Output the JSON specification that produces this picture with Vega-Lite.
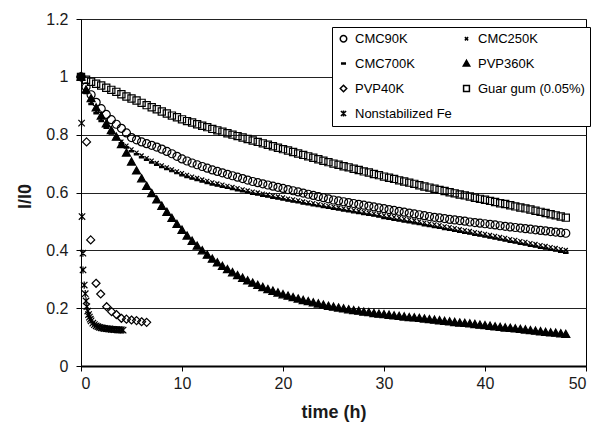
{
"$schema":"https://vega.github.io/schema/vega-lite/v6.json",
"width":505,"height":347,
"autosize":{"type":"none"},
"padding":{"left":81,"top":19,"right":12,"bottom":58},
"background":"white",
"config":{"view":{"stroke":"black","strokeWidth":1},
"font":"Liberation Sans",
"axis":{"labelFont":"Liberation Sans","labelFontSize":16,"labelColor":"#1a1a1a","titleFont":"Liberation Sans","titleFontSize":18,"titleFontWeight":"bold","titleColor":"#1a1a1a","domainColor":"black","tickColor":"black","tickSize":5,"gridColor":"#222222","gridWidth":1}},
"data":{"values":[
{"s":"Guar gum (0.05%)","t":0,"v":1.0},{"s":"Guar gum (0.05%)","t":0.5,"v":0.99},{"s":"Guar gum (0.05%)","t":1,"v":0.983},{"s":"Guar gum (0.05%)","t":1.5,"v":0.976},{"s":"Guar gum (0.05%)","t":2,"v":0.97},{"s":"Guar gum (0.05%)","t":2.5,"v":0.962},{"s":"Guar gum (0.05%)","t":3,"v":0.955},{"s":"Guar gum (0.05%)","t":3.5,"v":0.948},{"s":"Guar gum (0.05%)","t":4,"v":0.94},{"s":"Guar gum (0.05%)","t":4.5,"v":0.932},{"s":"Guar gum (0.05%)","t":5,"v":0.925},{"s":"Guar gum (0.05%)","t":5.5,"v":0.918},{"s":"Guar gum (0.05%)","t":6,"v":0.91},{"s":"Guar gum (0.05%)","t":6.5,"v":0.902},{"s":"Guar gum (0.05%)","t":7,"v":0.895},{"s":"Guar gum (0.05%)","t":7.5,"v":0.888},{"s":"Guar gum (0.05%)","t":8,"v":0.88},{"s":"Guar gum (0.05%)","t":8.5,"v":0.873},{"s":"Guar gum (0.05%)","t":9,"v":0.866},{"s":"Guar gum (0.05%)","t":9.5,"v":0.86},{"s":"Guar gum (0.05%)","t":10,"v":0.853},{"s":"Guar gum (0.05%)","t":10.5,"v":0.847},{"s":"Guar gum (0.05%)","t":11,"v":0.842},{"s":"Guar gum (0.05%)","t":11.5,"v":0.836},{"s":"Guar gum (0.05%)","t":12,"v":0.831},{"s":"Guar gum (0.05%)","t":12.5,"v":0.826},{"s":"Guar gum (0.05%)","t":13,"v":0.82},{"s":"Guar gum (0.05%)","t":13.5,"v":0.815},{"s":"Guar gum (0.05%)","t":14,"v":0.81},{"s":"Guar gum (0.05%)","t":14.5,"v":0.805},{"s":"Guar gum (0.05%)","t":15,"v":0.8},{"s":"Guar gum (0.05%)","t":15.5,"v":0.795},{"s":"Guar gum (0.05%)","t":16,"v":0.79},{"s":"Guar gum (0.05%)","t":16.5,"v":0.785},{"s":"Guar gum (0.05%)","t":17,"v":0.78},{"s":"Guar gum (0.05%)","t":17.5,"v":0.775},{"s":"Guar gum (0.05%)","t":18,"v":0.77},{"s":"Guar gum (0.05%)","t":18.5,"v":0.765},{"s":"Guar gum (0.05%)","t":19,"v":0.76},{"s":"Guar gum (0.05%)","t":19.5,"v":0.755},{"s":"Guar gum (0.05%)","t":20,"v":0.75},{"s":"Guar gum (0.05%)","t":20.5,"v":0.745},{"s":"Guar gum (0.05%)","t":21,"v":0.74},{"s":"Guar gum (0.05%)","t":21.5,"v":0.735},{"s":"Guar gum (0.05%)","t":22,"v":0.73},{"s":"Guar gum (0.05%)","t":22.5,"v":0.725},{"s":"Guar gum (0.05%)","t":23,"v":0.72},{"s":"Guar gum (0.05%)","t":23.5,"v":0.715},{"s":"Guar gum (0.05%)","t":24,"v":0.71},{"s":"Guar gum (0.05%)","t":24.5,"v":0.705},{"s":"Guar gum (0.05%)","t":25,"v":0.7},{"s":"Guar gum (0.05%)","t":25.5,"v":0.696},{"s":"Guar gum (0.05%)","t":26,"v":0.691},{"s":"Guar gum (0.05%)","t":26.5,"v":0.687},{"s":"Guar gum (0.05%)","t":27,"v":0.682},{"s":"Guar gum (0.05%)","t":27.5,"v":0.678},{"s":"Guar gum (0.05%)","t":28,"v":0.673},{"s":"Guar gum (0.05%)","t":28.5,"v":0.669},{"s":"Guar gum (0.05%)","t":29,"v":0.664},{"s":"Guar gum (0.05%)","t":29.5,"v":0.66},{"s":"Guar gum (0.05%)","t":30,"v":0.655},{"s":"Guar gum (0.05%)","t":30.5,"v":0.651},{"s":"Guar gum (0.05%)","t":31,"v":0.647},{"s":"Guar gum (0.05%)","t":31.5,"v":0.642},{"s":"Guar gum (0.05%)","t":32,"v":0.638},{"s":"Guar gum (0.05%)","t":32.5,"v":0.634},{"s":"Guar gum (0.05%)","t":33,"v":0.63},{"s":"Guar gum (0.05%)","t":33.5,"v":0.625},{"s":"Guar gum (0.05%)","t":34,"v":0.621},{"s":"Guar gum (0.05%)","t":34.5,"v":0.617},{"s":"Guar gum (0.05%)","t":35,"v":0.613},{"s":"Guar gum (0.05%)","t":35.5,"v":0.609},{"s":"Guar gum (0.05%)","t":36,"v":0.605},{"s":"Guar gum (0.05%)","t":36.5,"v":0.601},{"s":"Guar gum (0.05%)","t":37,"v":0.597},{"s":"Guar gum (0.05%)","t":37.5,"v":0.593},{"s":"Guar gum (0.05%)","t":38,"v":0.59},{"s":"Guar gum (0.05%)","t":38.5,"v":0.586},{"s":"Guar gum (0.05%)","t":39,"v":0.582},{"s":"Guar gum (0.05%)","t":39.5,"v":0.578},{"s":"Guar gum (0.05%)","t":40,"v":0.575},{"s":"Guar gum (0.05%)","t":40.5,"v":0.571},{"s":"Guar gum (0.05%)","t":41,"v":0.567},{"s":"Guar gum (0.05%)","t":41.5,"v":0.563},{"s":"Guar gum (0.05%)","t":42,"v":0.56},{"s":"Guar gum (0.05%)","t":42.5,"v":0.556},{"s":"Guar gum (0.05%)","t":43,"v":0.552},{"s":"Guar gum (0.05%)","t":43.5,"v":0.548},{"s":"Guar gum (0.05%)","t":44,"v":0.545},{"s":"Guar gum (0.05%)","t":44.5,"v":0.541},{"s":"Guar gum (0.05%)","t":45,"v":0.537},{"s":"Guar gum (0.05%)","t":45.5,"v":0.533},{"s":"Guar gum (0.05%)","t":46,"v":0.529},{"s":"Guar gum (0.05%)","t":46.5,"v":0.525},{"s":"Guar gum (0.05%)","t":47,"v":0.521},{"s":"Guar gum (0.05%)","t":47.5,"v":0.517},{"s":"Guar gum (0.05%)","t":48,"v":0.513},
{"s":"CMC90K","t":0,"v":1.0},{"s":"CMC90K","t":0.5,"v":0.965},{"s":"CMC90K","t":1,"v":0.938},{"s":"CMC90K","t":1.5,"v":0.912},{"s":"CMC90K","t":2,"v":0.89},{"s":"CMC90K","t":2.5,"v":0.87},{"s":"CMC90K","t":3,"v":0.852},{"s":"CMC90K","t":3.5,"v":0.836},{"s":"CMC90K","t":4,"v":0.822},{"s":"CMC90K","t":4.5,"v":0.806},{"s":"CMC90K","t":5,"v":0.79},{"s":"CMC90K","t":5.5,"v":0.782},{"s":"CMC90K","t":6,"v":0.775},{"s":"CMC90K","t":6.5,"v":0.769},{"s":"CMC90K","t":7,"v":0.763},{"s":"CMC90K","t":7.5,"v":0.757},{"s":"CMC90K","t":8,"v":0.75},{"s":"CMC90K","t":8.5,"v":0.742},{"s":"CMC90K","t":9,"v":0.734},{"s":"CMC90K","t":9.5,"v":0.725},{"s":"CMC90K","t":10,"v":0.716},{"s":"CMC90K","t":10.5,"v":0.709},{"s":"CMC90K","t":11,"v":0.702},{"s":"CMC90K","t":11.5,"v":0.696},{"s":"CMC90K","t":12,"v":0.69},{"s":"CMC90K","t":12.5,"v":0.684},{"s":"CMC90K","t":13,"v":0.678},{"s":"CMC90K","t":13.5,"v":0.673},{"s":"CMC90K","t":14,"v":0.668},{"s":"CMC90K","t":14.5,"v":0.663},{"s":"CMC90K","t":15,"v":0.658},{"s":"CMC90K","t":15.5,"v":0.653},{"s":"CMC90K","t":16,"v":0.648},{"s":"CMC90K","t":16.5,"v":0.643},{"s":"CMC90K","t":17,"v":0.638},{"s":"CMC90K","t":17.5,"v":0.634},{"s":"CMC90K","t":18,"v":0.63},{"s":"CMC90K","t":18.5,"v":0.626},{"s":"CMC90K","t":19,"v":0.622},{"s":"CMC90K","t":19.5,"v":0.618},{"s":"CMC90K","t":20,"v":0.614},{"s":"CMC90K","t":20.5,"v":0.61},{"s":"CMC90K","t":21,"v":0.606},{"s":"CMC90K","t":21.5,"v":0.602},{"s":"CMC90K","t":22,"v":0.598},{"s":"CMC90K","t":22.5,"v":0.594},{"s":"CMC90K","t":23,"v":0.59},{"s":"CMC90K","t":23.5,"v":0.586},{"s":"CMC90K","t":24,"v":0.582},{"s":"CMC90K","t":24.5,"v":0.578},{"s":"CMC90K","t":25,"v":0.574},{"s":"CMC90K","t":25.5,"v":0.571},{"s":"CMC90K","t":26,"v":0.568},{"s":"CMC90K","t":26.5,"v":0.565},{"s":"CMC90K","t":27,"v":0.562},{"s":"CMC90K","t":27.5,"v":0.559},{"s":"CMC90K","t":28,"v":0.556},{"s":"CMC90K","t":28.5,"v":0.553},{"s":"CMC90K","t":29,"v":0.55},{"s":"CMC90K","t":29.5,"v":0.547},{"s":"CMC90K","t":30,"v":0.544},{"s":"CMC90K","t":30.5,"v":0.541},{"s":"CMC90K","t":31,"v":0.538},{"s":"CMC90K","t":31.5,"v":0.535},{"s":"CMC90K","t":32,"v":0.532},{"s":"CMC90K","t":32.5,"v":0.529},{"s":"CMC90K","t":33,"v":0.526},{"s":"CMC90K","t":33.5,"v":0.523},{"s":"CMC90K","t":34,"v":0.52},{"s":"CMC90K","t":34.5,"v":0.517},{"s":"CMC90K","t":35,"v":0.514},{"s":"CMC90K","t":35.5,"v":0.512},{"s":"CMC90K","t":36,"v":0.51},{"s":"CMC90K","t":36.5,"v":0.507},{"s":"CMC90K","t":37,"v":0.505},{"s":"CMC90K","t":37.5,"v":0.503},{"s":"CMC90K","t":38,"v":0.501},{"s":"CMC90K","t":38.5,"v":0.498},{"s":"CMC90K","t":39,"v":0.496},{"s":"CMC90K","t":39.5,"v":0.494},{"s":"CMC90K","t":40,"v":0.492},{"s":"CMC90K","t":40.5,"v":0.49},{"s":"CMC90K","t":41,"v":0.488},{"s":"CMC90K","t":41.5,"v":0.485},{"s":"CMC90K","t":42,"v":0.483},{"s":"CMC90K","t":42.5,"v":0.481},{"s":"CMC90K","t":43,"v":0.479},{"s":"CMC90K","t":43.5,"v":0.477},{"s":"CMC90K","t":44,"v":0.475},{"s":"CMC90K","t":44.5,"v":0.473},{"s":"CMC90K","t":45,"v":0.471},{"s":"CMC90K","t":45.5,"v":0.469},{"s":"CMC90K","t":46,"v":0.467},{"s":"CMC90K","t":46.5,"v":0.465},{"s":"CMC90K","t":47,"v":0.463},{"s":"CMC90K","t":47.5,"v":0.461},{"s":"CMC90K","t":48,"v":0.459},
{"s":"CMC250K","t":0,"v":1.0},{"s":"CMC250K","t":0.5,"v":0.95},{"s":"CMC250K","t":1,"v":0.912},{"s":"CMC250K","t":1.5,"v":0.88},{"s":"CMC250K","t":2,"v":0.853},{"s":"CMC250K","t":2.5,"v":0.83},{"s":"CMC250K","t":3,"v":0.81},{"s":"CMC250K","t":3.5,"v":0.792},{"s":"CMC250K","t":4,"v":0.776},{"s":"CMC250K","t":4.5,"v":0.762},{"s":"CMC250K","t":5,"v":0.749},{"s":"CMC250K","t":5.5,"v":0.738},{"s":"CMC250K","t":6,"v":0.728},{"s":"CMC250K","t":6.5,"v":0.719},{"s":"CMC250K","t":7,"v":0.71},{"s":"CMC250K","t":7.5,"v":0.702},{"s":"CMC250K","t":8,"v":0.694},{"s":"CMC250K","t":8.5,"v":0.687},{"s":"CMC250K","t":9,"v":0.68},{"s":"CMC250K","t":9.5,"v":0.673},{"s":"CMC250K","t":10,"v":0.667},{"s":"CMC250K","t":10.5,"v":0.661},{"s":"CMC250K","t":11,"v":0.655},{"s":"CMC250K","t":11.5,"v":0.65},{"s":"CMC250K","t":12,"v":0.645},{"s":"CMC250K","t":12.5,"v":0.64},{"s":"CMC250K","t":13,"v":0.635},{"s":"CMC250K","t":13.5,"v":0.631},{"s":"CMC250K","t":14,"v":0.627},{"s":"CMC250K","t":14.5,"v":0.623},{"s":"CMC250K","t":15,"v":0.619},{"s":"CMC250K","t":15.5,"v":0.615},{"s":"CMC250K","t":16,"v":0.611},{"s":"CMC250K","t":16.5,"v":0.607},{"s":"CMC250K","t":17,"v":0.603},{"s":"CMC250K","t":17.5,"v":0.6},{"s":"CMC250K","t":18,"v":0.596},{"s":"CMC250K","t":18.5,"v":0.593},{"s":"CMC250K","t":19,"v":0.589},{"s":"CMC250K","t":19.5,"v":0.586},{"s":"CMC250K","t":20,"v":0.583},{"s":"CMC250K","t":20.5,"v":0.579},{"s":"CMC250K","t":21,"v":0.576},{"s":"CMC250K","t":21.5,"v":0.573},{"s":"CMC250K","t":22,"v":0.569},{"s":"CMC250K","t":22.5,"v":0.566},{"s":"CMC250K","t":23,"v":0.563},{"s":"CMC250K","t":23.5,"v":0.56},{"s":"CMC250K","t":24,"v":0.557},{"s":"CMC250K","t":24.5,"v":0.554},{"s":"CMC250K","t":25,"v":0.551},{"s":"CMC250K","t":25.5,"v":0.548},{"s":"CMC250K","t":26,"v":0.545},{"s":"CMC250K","t":26.5,"v":0.542},{"s":"CMC250K","t":27,"v":0.539},{"s":"CMC250K","t":27.5,"v":0.536},{"s":"CMC250K","t":28,"v":0.533},{"s":"CMC250K","t":28.5,"v":0.53},{"s":"CMC250K","t":29,"v":0.527},{"s":"CMC250K","t":29.5,"v":0.524},{"s":"CMC250K","t":30,"v":0.521},{"s":"CMC250K","t":30.5,"v":0.518},{"s":"CMC250K","t":31,"v":0.515},{"s":"CMC250K","t":31.5,"v":0.512},{"s":"CMC250K","t":32,"v":0.509},{"s":"CMC250K","t":32.5,"v":0.506},{"s":"CMC250K","t":33,"v":0.503},{"s":"CMC250K","t":33.5,"v":0.5},{"s":"CMC250K","t":34,"v":0.496},{"s":"CMC250K","t":34.5,"v":0.493},{"s":"CMC250K","t":35,"v":0.49},{"s":"CMC250K","t":35.5,"v":0.487},{"s":"CMC250K","t":36,"v":0.483},{"s":"CMC250K","t":36.5,"v":0.48},{"s":"CMC250K","t":37,"v":0.477},{"s":"CMC250K","t":37.5,"v":0.473},{"s":"CMC250K","t":38,"v":0.47},{"s":"CMC250K","t":38.5,"v":0.467},{"s":"CMC250K","t":39,"v":0.463},{"s":"CMC250K","t":39.5,"v":0.46},{"s":"CMC250K","t":40,"v":0.457},{"s":"CMC250K","t":40.5,"v":0.453},{"s":"CMC250K","t":41,"v":0.45},{"s":"CMC250K","t":41.5,"v":0.446},{"s":"CMC250K","t":42,"v":0.443},{"s":"CMC250K","t":42.5,"v":0.439},{"s":"CMC250K","t":43,"v":0.436},{"s":"CMC250K","t":43.5,"v":0.432},{"s":"CMC250K","t":44,"v":0.429},{"s":"CMC250K","t":44.5,"v":0.425},{"s":"CMC250K","t":45,"v":0.422},{"s":"CMC250K","t":45.5,"v":0.418},{"s":"CMC250K","t":46,"v":0.415},{"s":"CMC250K","t":46.5,"v":0.411},{"s":"CMC250K","t":47,"v":0.408},{"s":"CMC250K","t":47.5,"v":0.404},{"s":"CMC250K","t":48,"v":0.401},
{"s":"CMC700K","t":0,"v":1.0},{"s":"CMC700K","t":0.5,"v":0.944},{"s":"CMC700K","t":1,"v":0.906},{"s":"CMC700K","t":1.5,"v":0.874},{"s":"CMC700K","t":2,"v":0.847},{"s":"CMC700K","t":2.5,"v":0.824},{"s":"CMC700K","t":3,"v":0.804},{"s":"CMC700K","t":3.5,"v":0.786},{"s":"CMC700K","t":4,"v":0.77},{"s":"CMC700K","t":4.5,"v":0.756},{"s":"CMC700K","t":5,"v":0.743},{"s":"CMC700K","t":5.5,"v":0.732},{"s":"CMC700K","t":6,"v":0.722},{"s":"CMC700K","t":6.5,"v":0.713},{"s":"CMC700K","t":7,"v":0.704},{"s":"CMC700K","t":7.5,"v":0.696},{"s":"CMC700K","t":8,"v":0.688},{"s":"CMC700K","t":8.5,"v":0.681},{"s":"CMC700K","t":9,"v":0.674},{"s":"CMC700K","t":9.5,"v":0.667},{"s":"CMC700K","t":10,"v":0.66},{"s":"CMC700K","t":10.5,"v":0.654},{"s":"CMC700K","t":11,"v":0.648},{"s":"CMC700K","t":11.5,"v":0.643},{"s":"CMC700K","t":12,"v":0.638},{"s":"CMC700K","t":12.5,"v":0.633},{"s":"CMC700K","t":13,"v":0.628},{"s":"CMC700K","t":13.5,"v":0.624},{"s":"CMC700K","t":14,"v":0.62},{"s":"CMC700K","t":14.5,"v":0.616},{"s":"CMC700K","t":15,"v":0.612},{"s":"CMC700K","t":15.5,"v":0.608},{"s":"CMC700K","t":16,"v":0.604},{"s":"CMC700K","t":16.5,"v":0.6},{"s":"CMC700K","t":17,"v":0.596},{"s":"CMC700K","t":17.5,"v":0.593},{"s":"CMC700K","t":18,"v":0.589},{"s":"CMC700K","t":18.5,"v":0.586},{"s":"CMC700K","t":19,"v":0.582},{"s":"CMC700K","t":19.5,"v":0.579},{"s":"CMC700K","t":20,"v":0.576},{"s":"CMC700K","t":20.5,"v":0.572},{"s":"CMC700K","t":21,"v":0.569},{"s":"CMC700K","t":21.5,"v":0.566},{"s":"CMC700K","t":22,"v":0.562},{"s":"CMC700K","t":22.5,"v":0.559},{"s":"CMC700K","t":23,"v":0.556},{"s":"CMC700K","t":23.5,"v":0.553},{"s":"CMC700K","t":24,"v":0.55},{"s":"CMC700K","t":24.5,"v":0.547},{"s":"CMC700K","t":25,"v":0.544},{"s":"CMC700K","t":25.5,"v":0.541},{"s":"CMC700K","t":26,"v":0.538},{"s":"CMC700K","t":26.5,"v":0.535},{"s":"CMC700K","t":27,"v":0.532},{"s":"CMC700K","t":27.5,"v":0.529},{"s":"CMC700K","t":28,"v":0.526},{"s":"CMC700K","t":28.5,"v":0.523},{"s":"CMC700K","t":29,"v":0.52},{"s":"CMC700K","t":29.5,"v":0.517},{"s":"CMC700K","t":30,"v":0.512},{"s":"CMC700K","t":30.5,"v":0.509},{"s":"CMC700K","t":31,"v":0.506},{"s":"CMC700K","t":31.5,"v":0.503},{"s":"CMC700K","t":32,"v":0.5},{"s":"CMC700K","t":32.5,"v":0.497},{"s":"CMC700K","t":33,"v":0.494},{"s":"CMC700K","t":33.5,"v":0.491},{"s":"CMC700K","t":34,"v":0.487},{"s":"CMC700K","t":34.5,"v":0.484},{"s":"CMC700K","t":35,"v":0.481},{"s":"CMC700K","t":35.5,"v":0.478},{"s":"CMC700K","t":36,"v":0.474},{"s":"CMC700K","t":36.5,"v":0.471},{"s":"CMC700K","t":37,"v":0.468},{"s":"CMC700K","t":37.5,"v":0.464},{"s":"CMC700K","t":38,"v":0.461},{"s":"CMC700K","t":38.5,"v":0.458},{"s":"CMC700K","t":39,"v":0.454},{"s":"CMC700K","t":39.5,"v":0.451},{"s":"CMC700K","t":40,"v":0.448},{"s":"CMC700K","t":40.5,"v":0.444},{"s":"CMC700K","t":41,"v":0.441},{"s":"CMC700K","t":41.5,"v":0.437},{"s":"CMC700K","t":42,"v":0.434},{"s":"CMC700K","t":42.5,"v":0.43},{"s":"CMC700K","t":43,"v":0.427},{"s":"CMC700K","t":43.5,"v":0.423},{"s":"CMC700K","t":44,"v":0.42},{"s":"CMC700K","t":44.5,"v":0.416},{"s":"CMC700K","t":45,"v":0.413},{"s":"CMC700K","t":45.5,"v":0.409},{"s":"CMC700K","t":46,"v":0.406},{"s":"CMC700K","t":46.5,"v":0.402},{"s":"CMC700K","t":47,"v":0.399},{"s":"CMC700K","t":47.5,"v":0.395},{"s":"CMC700K","t":48,"v":0.392},
{"s":"PVP360K","t":0,"v":1.0},{"s":"PVP360K","t":0.5,"v":0.955},{"s":"PVP360K","t":1,"v":0.925},{"s":"PVP360K","t":1.5,"v":0.893},{"s":"PVP360K","t":2,"v":0.865},{"s":"PVP360K","t":2.5,"v":0.838},{"s":"PVP360K","t":3,"v":0.815},{"s":"PVP360K","t":3.5,"v":0.792},{"s":"PVP360K","t":4,"v":0.766},{"s":"PVP360K","t":4.5,"v":0.737},{"s":"PVP360K","t":5,"v":0.706},{"s":"PVP360K","t":5.5,"v":0.675},{"s":"PVP360K","t":6,"v":0.648},{"s":"PVP360K","t":6.5,"v":0.622},{"s":"PVP360K","t":7,"v":0.597},{"s":"PVP360K","t":7.5,"v":0.575},{"s":"PVP360K","t":8,"v":0.553},{"s":"PVP360K","t":8.5,"v":0.532},{"s":"PVP360K","t":9,"v":0.511},{"s":"PVP360K","t":9.5,"v":0.49},{"s":"PVP360K","t":10,"v":0.47},{"s":"PVP360K","t":10.5,"v":0.45},{"s":"PVP360K","t":11,"v":0.432},{"s":"PVP360K","t":11.5,"v":0.415},{"s":"PVP360K","t":12,"v":0.399},{"s":"PVP360K","t":12.5,"v":0.384},{"s":"PVP360K","t":13,"v":0.37},{"s":"PVP360K","t":13.5,"v":0.357},{"s":"PVP360K","t":14,"v":0.345},{"s":"PVP360K","t":14.5,"v":0.334},{"s":"PVP360K","t":15,"v":0.323},{"s":"PVP360K","t":15.5,"v":0.313},{"s":"PVP360K","t":16,"v":0.304},{"s":"PVP360K","t":16.5,"v":0.295},{"s":"PVP360K","t":17,"v":0.287},{"s":"PVP360K","t":17.5,"v":0.279},{"s":"PVP360K","t":18,"v":0.272},{"s":"PVP360K","t":18.5,"v":0.265},{"s":"PVP360K","t":19,"v":0.259},{"s":"PVP360K","t":19.5,"v":0.253},{"s":"PVP360K","t":20,"v":0.247},{"s":"PVP360K","t":20.5,"v":0.242},{"s":"PVP360K","t":21,"v":0.237},{"s":"PVP360K","t":21.5,"v":0.232},{"s":"PVP360K","t":22,"v":0.227},{"s":"PVP360K","t":22.5,"v":0.223},{"s":"PVP360K","t":23,"v":0.219},{"s":"PVP360K","t":23.5,"v":0.215},{"s":"PVP360K","t":24,"v":0.211},{"s":"PVP360K","t":24.5,"v":0.207},{"s":"PVP360K","t":25,"v":0.204},{"s":"PVP360K","t":25.5,"v":0.201},{"s":"PVP360K","t":26,"v":0.198},{"s":"PVP360K","t":26.5,"v":0.195},{"s":"PVP360K","t":27,"v":0.192},{"s":"PVP360K","t":27.5,"v":0.19},{"s":"PVP360K","t":28,"v":0.187},{"s":"PVP360K","t":28.5,"v":0.185},{"s":"PVP360K","t":29,"v":0.182},{"s":"PVP360K","t":29.5,"v":0.18},{"s":"PVP360K","t":30,"v":0.178},{"s":"PVP360K","t":30.5,"v":0.176},{"s":"PVP360K","t":31,"v":0.174},{"s":"PVP360K","t":31.5,"v":0.172},{"s":"PVP360K","t":32,"v":0.17},{"s":"PVP360K","t":32.5,"v":0.168},{"s":"PVP360K","t":33,"v":0.167},{"s":"PVP360K","t":33.5,"v":0.165},{"s":"PVP360K","t":34,"v":0.163},{"s":"PVP360K","t":34.5,"v":0.161},{"s":"PVP360K","t":35,"v":0.159},{"s":"PVP360K","t":35.5,"v":0.157},{"s":"PVP360K","t":36,"v":0.155},{"s":"PVP360K","t":36.5,"v":0.153},{"s":"PVP360K","t":37,"v":0.151},{"s":"PVP360K","t":37.5,"v":0.149},{"s":"PVP360K","t":38,"v":0.148},{"s":"PVP360K","t":38.5,"v":0.146},{"s":"PVP360K","t":39,"v":0.144},{"s":"PVP360K","t":39.5,"v":0.142},{"s":"PVP360K","t":40,"v":0.14},{"s":"PVP360K","t":40.5,"v":0.138},{"s":"PVP360K","t":41,"v":0.136},{"s":"PVP360K","t":41.5,"v":0.134},{"s":"PVP360K","t":42,"v":0.132},{"s":"PVP360K","t":42.5,"v":0.131},{"s":"PVP360K","t":43,"v":0.129},{"s":"PVP360K","t":43.5,"v":0.127},{"s":"PVP360K","t":44,"v":0.125},{"s":"PVP360K","t":44.5,"v":0.123},{"s":"PVP360K","t":45,"v":0.121},{"s":"PVP360K","t":45.5,"v":0.119},{"s":"PVP360K","t":46,"v":0.117},{"s":"PVP360K","t":46.5,"v":0.115},{"s":"PVP360K","t":47,"v":0.114},{"s":"PVP360K","t":47.5,"v":0.112},{"s":"PVP360K","t":48,"v":0.11},
{"s":"PVP40K","t":0,"v":1.0},{"s":"PVP40K","t":0.55,"v":0.775},{"s":"PVP40K","t":0.96,"v":0.436},{"s":"PVP40K","t":1.49,"v":0.286},{"s":"PVP40K","t":1.95,"v":0.249},{"s":"PVP40K","t":2.54,"v":0.205},{"s":"PVP40K","t":3.03,"v":0.188},{"s":"PVP40K","t":3.5,"v":0.178},{"s":"PVP40K","t":4,"v":0.165},{"s":"PVP40K","t":4.5,"v":0.162},{"s":"PVP40K","t":5,"v":0.159},{"s":"PVP40K","t":5.5,"v":0.157},{"s":"PVP40K","t":6,"v":0.153},{"s":"PVP40K","t":6.5,"v":0.151},
{"s":"Nonstabilized Fe","t":0,"v":1.0},{"s":"Nonstabilized Fe","t":0.06,"v":0.84},{"s":"Nonstabilized Fe","t":0.1,"v":0.517},{"s":"Nonstabilized Fe","t":0.19,"v":0.39},{"s":"Nonstabilized Fe","t":0.2,"v":0.332},{"s":"Nonstabilized Fe","t":0.32,"v":0.28},{"s":"Nonstabilized Fe","t":0.42,"v":0.25},{"s":"Nonstabilized Fe","t":0.5,"v":0.225},{"s":"Nonstabilized Fe","t":0.58,"v":0.205},{"s":"Nonstabilized Fe","t":0.67,"v":0.19},{"s":"Nonstabilized Fe","t":0.75,"v":0.178},{"s":"Nonstabilized Fe","t":0.83,"v":0.169},{"s":"Nonstabilized Fe","t":0.92,"v":0.162},{"s":"Nonstabilized Fe","t":1.0,"v":0.156},{"s":"Nonstabilized Fe","t":1.17,"v":0.148},{"s":"Nonstabilized Fe","t":1.33,"v":0.143},{"s":"Nonstabilized Fe","t":1.5,"v":0.139},{"s":"Nonstabilized Fe","t":1.67,"v":0.136},{"s":"Nonstabilized Fe","t":1.83,"v":0.134},{"s":"Nonstabilized Fe","t":2.0,"v":0.132},{"s":"Nonstabilized Fe","t":2.17,"v":0.131},{"s":"Nonstabilized Fe","t":2.33,"v":0.13},{"s":"Nonstabilized Fe","t":2.5,"v":0.129},{"s":"Nonstabilized Fe","t":2.67,"v":0.128},{"s":"Nonstabilized Fe","t":2.83,"v":0.128},{"s":"Nonstabilized Fe","t":3.0,"v":0.127},{"s":"Nonstabilized Fe","t":3.17,"v":0.127},{"s":"Nonstabilized Fe","t":3.33,"v":0.126},{"s":"Nonstabilized Fe","t":3.5,"v":0.126},{"s":"Nonstabilized Fe","t":3.67,"v":0.125},{"s":"Nonstabilized Fe","t":3.83,"v":0.125},{"s":"Nonstabilized Fe","t":4.0,"v":0.125},{"s":"Nonstabilized Fe","t":4.17,"v":0.124}
]},
"mark":{"type":"point","filled":true,"stroke":"black","strokeWidth":1.2,"size":64,"opacity":1},
"encoding":{
"x":{"field":"t","type":"quantitative","scale":{"domain":[0,50],"nice":false,"zero":true},
 "axis":{"title":"time (h)","values":[0,10,20,30,40,50],"grid":false,"domainWidth":2,"labelPadding":4,"titleBaseline":"alphabetic","titleY":51}},
"y":{"field":"v","type":"quantitative","scale":{"domain":[0,1.2],"nice":false},
 "axis":{"title":"I/I0","values":[0,0.2,0.4,0.6,0.8,1,1.2],"format":"~g","grid":true,"domainWidth":1,"labelPadding":8,"titleX":-47,"titleY":177}},
"shape":{"field":"s","type":"nominal",
 "scale":{"domain":["CMC90K","CMC250K","CMC700K","PVP360K","PVP40K","Guar gum (0.05%)","Nonstabilized Fe"],
  "range":["circle","M-0.5,-0.5L0.5,0.5M-0.5,0.5L0.5,-0.5","M-0.55,-0.16H0.55V0.16H-0.55Z","M0,-1L1,0.8L-1,0.8Z","M0,-1L1,0L0,1L-1,0Z","M-0.9,-0.9H0.9V0.9H-0.9Z","M-0.8,-0.8L0.8,0.8M-0.8,0.8L0.8,-0.8M0,-0.9L0,0.9"]},
 "legend":{"title":null,"orient":"none","legendX":251,"legendY":8,"direction":"horizontal","columns":2,"columnPadding":8,"rowPadding":11,"padding":5,"strokeColor":"black","fillColor":"white","labelFont":"Liberation Sans","labelFontSize":13,"labelColor":"black","symbolSize":42,"labelOffset":5,
  "encode":{"symbols":{"update":{"stroke":{"value":"black"},"strokeWidth":{"value":1}}}}}},
"fill":{"field":"s","type":"nominal",
 "scale":{"domain":["CMC90K","CMC250K","CMC700K","PVP360K","PVP40K","Guar gum (0.05%)","Nonstabilized Fe"],
  "range":["transparent","transparent","black","black","transparent","transparent","transparent"]},
 "legend":{"title":null,"orient":"none","legendX":251,"legendY":8,"direction":"horizontal","columns":2,"columnPadding":8,"rowPadding":11,"padding":5,"strokeColor":"black","fillColor":"white","labelFont":"Liberation Sans","labelFontSize":13,"labelColor":"black","symbolSize":42,"labelOffset":5,
  "encode":{"symbols":{"update":{"stroke":{"value":"black"},"strokeWidth":{"value":1}}}}}}
}
}
